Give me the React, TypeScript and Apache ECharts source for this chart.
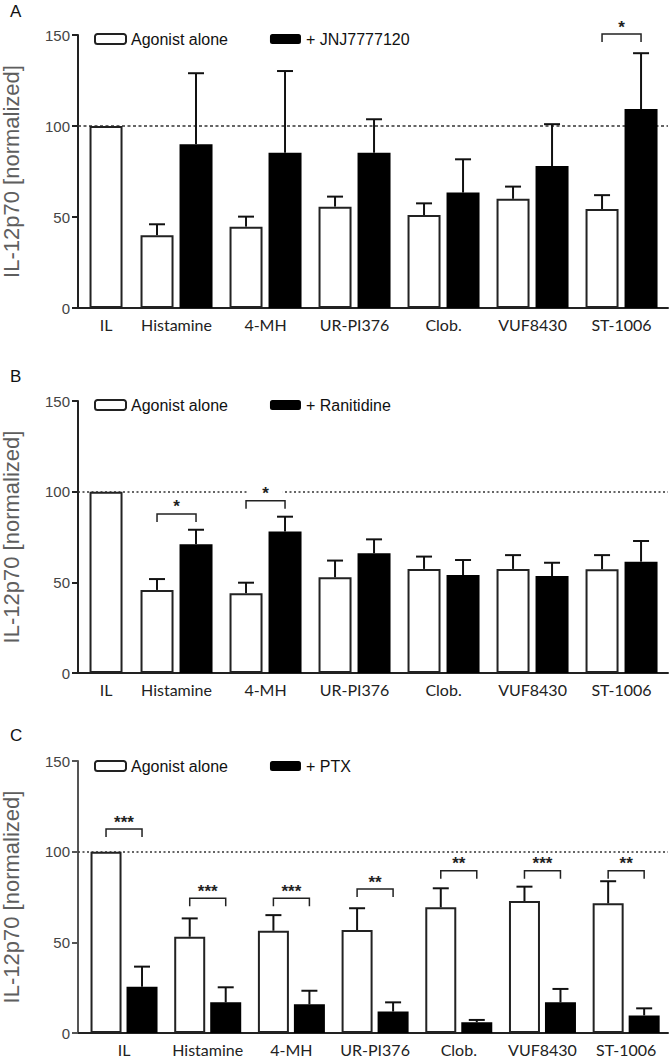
import React, { useEffect, useRef } from 'react';
import * as echarts from 'echarts';

// ---------- data ----------
const categories = ['IL', 'Histamine', '4-MH', 'UR-PI376', 'Clob.', 'VUF8430', 'ST-1006'];
const yTicks = [0, 50, 100, 150];

// Panel A
const aloneA = [100, 40, 44.7, 55.7, 51.1, 60, 54.4];
const aloneErrA = [null, 6, 5.5, 5.5, 6.4, 6.7, 7.6];
const jnjA = [null, 90, 85.3, 85.3, 63.4, 78, 109.3];
const jnjErrA = [null, 39, 44.9, 18.4, 18.3, 23, 30.7];
const sigA = [null, null, null, null, null, null, '*'];
const sigLevelA = [null, null, null, null, null, null, 150.5];

// Panel B
const aloneB = [100, 45.8, 44, 52.8, 57.4, 57.4, 57.2];
const aloneErrB = [null, 6, 5.8, 9.2, 6.8, 7.6, 7.8];
const raniB = [null, 71, 78, 66, 54, 53.5, 61.4];
const raniErrB = [null, 8, 8.2, 7.7, 8.3, 7.3, 11.4];
const sigB = [null, '*', '*', null, null, null, null];
const sigLevelB = [null, 87.7, 95, null, null, null, null];

// Panel C
const aloneC = [100, 53.1, 56.4, 56.8, 69.3, 72.8, 71.5];
const aloneErrC = [null, 10.1, 8.6, 12, 10.5, 7.9, 12.2];
const ptxC = [25.5, 16.9, 15.8, 11.8, 5.9, 16.9, 9.7];
const ptxErrC = [11.1, 8.3, 7.5, 5.1, 1.3, 7.4, 3.9];
const sigC = ['***', '***', '***', '**', '**', '***', '**'];
const sigLevelC = [112.5, 74.3, 74.3, 79.4, 89.5, 89.5, 89.5];

const referenceLevel = 100;

// ---------- layout ----------
const GRID_LEFT = 78;
const GRID_WIDTH = 590;
const panels = [
  {
    letter: 'A', top: 35, height: 273, letterY: 3, legendTop: 31,
    xMin: -0.107, xMax: 6.522, ilPos: 0.427, barW: 33, gapPx: 6, ilLabelOnBar: true,
    alone: aloneA, aloneErr: aloneErrA, treat: jnjA, treatErr: jnjErrA, treatName: '+ JNJ7777120',
    sig: sigA, sigLevel: sigLevelA, starBg: false, axisColor: '#222', dash: [3, 2.5],
  },
  {
    letter: 'B', top: 401, height: 272, letterY: 368, legendTop: 397,
    xMin: -0.107, xMax: 6.522, ilPos: 0.427, barW: 33, gapPx: 6, ilLabelOnBar: true,
    alone: aloneB, aloneErr: aloneErrB, treat: raniB, treatErr: raniErrB, treatName: '+ Ranitidine',
    sig: sigB, sigLevel: sigLevelB, starBg: true, axisColor: '#222', dash: [2, 2.5],
  },
  {
    letter: 'C', top: 761, height: 272, letterY: 727, legendTop: 758,
    xMin: -0.55, xMax: 6.5, ilPos: 0, barW: 31, gapPx: 5, ilLabelOnBar: false,
    alone: aloneC, aloneErr: aloneErrC, treat: ptxC, treatErr: ptxErrC, treatName: '+ PTX',
    sig: sigC, sigLevel: sigLevelC, starBg: false, axisColor: '#555', dash: [2, 2.5],
  },
];

const SANS = 'Liberation Sans, Arial, sans-serif';

function buildOption() {
  const grid: any[] = [];
  const xAxis: any[] = [];
  const yAxis: any[] = [];
  const series: any[] = [];
  const legend: any[] = [];
  const graphic: any[] = [];

  panels.forEach((p, i) => {
    const pxPerUnit = GRID_WIDTH / (p.xMax - p.xMin);
    const off = (p.barW + p.gapPx) / 2;
    const pos = (j: number) => (j === 0 ? p.ilPos : j);
    const labelPos = categories.map((_, j) =>
      j === 0 && p.ilLabelOnBar ? p.ilPos - off / pxPerUnit : pos(j)
    );

    grid.push({
      left: GRID_LEFT, width: GRID_WIDTH, top: p.top, height: p.height,
      containLabel: false, outerBoundsMode: 'none',
    });

    xAxis.push({
      gridIndex: i, type: 'value', min: p.xMin, max: p.xMax,
      axisLine: { show: true, onZero: false, lineStyle: { color: '#222', width: 2 } },
      axisTick: { show: false },
      splitLine: { show: false },
      axisLabel: {
        customValues: labelPos,
        formatter: (v: number) => {
          let best = 0;
          labelPos.forEach((lp, k) => {
            if (Math.abs(lp - v) < Math.abs(labelPos[best] - v)) best = k;
          });
          return categories[best];
        },
        fontFamily: 'Lato, sans-serif', fontSize: 16, lineHeight: 16, color: '#222', margin: 8,
      },
    });

    yAxis.push({
      gridIndex: i, type: 'value', min: yTicks[0], max: yTicks[yTicks.length - 1], interval: 50,
      name: 'IL-12p70 [normalized]', nameLocation: 'middle', nameGap: 56,
      nameTextStyle: { fontFamily: SANS, fontSize: 22, color: '#5e5e5e' },
      axisLine: { show: true, onZero: false, lineStyle: { color: p.axisColor, width: 2 } },
      axisTick: { show: true, length: 6, lineStyle: { color: p.axisColor, width: 2 } },
      axisLabel: { fontFamily: SANS, fontSize: 15, color: '#444', margin: 8 },
      splitLine: { show: false },
    });

    const aloneData = p.alone.map((v, j) => (v == null ? null : [pos(j), v])).filter(Boolean);
    const treatData = p.treat.map((v, j) => (v == null ? null : [pos(j), v])).filter(Boolean);
    const barGap = `${(p.gapPx / p.barW) * 100}%`;

    series.push({
      type: 'bar', name: 'Agonist alone', xAxisIndex: i, yAxisIndex: i,
      data: aloneData, barWidth: p.barW, barGap, z: 2,
      itemStyle: { color: '#fff', borderColor: '#222', borderWidth: 2 },
      markLine: {
        silent: true, symbol: 'none', z: 1, animation: false,
        label: { show: false },
        lineStyle: { type: p.dash, color: '#333', width: 1.5 },
        data: [{ yAxis: referenceLevel }],
      },
    });
    series.push({
      type: 'bar', name: p.treatName, xAxisIndex: i, yAxisIndex: i,
      data: treatData, barWidth: p.barW, barGap, z: 2,
      itemStyle: { color: '#000', borderColor: '#000', borderWidth: 2 },
    });

    // error bars (upper only)
    const errData: any[] = [];
    p.alone.forEach((v, j) => {
      const e = p.aloneErr[j];
      if (v != null && e != null) errData.push([pos(j), v, e, -1]);
    });
    p.treat.forEach((v, j) => {
      const e = p.treatErr[j];
      if (v != null && e != null) errData.push([pos(j), v, e, 1]);
    });
    series.push({
      type: 'custom', xAxisIndex: i, yAxisIndex: i, z: 3, silent: true,
      data: errData,
      renderItem: (_params: any, api: any) => {
        const x = api.value(0), y = api.value(1), e = api.value(2), side = api.value(3);
        const b = api.coord([x, y]);
        const t = api.coord([x, y + e]);
        const cx = b[0] + side * off;
        const st = { stroke: '#111', lineWidth: 2 };
        return {
          type: 'group',
          children: [
            { type: 'line', shape: { x1: cx, y1: b[1], x2: cx, y2: t[1] }, style: st },
            { type: 'line', shape: { x1: cx - 8, y1: t[1], x2: cx + 8, y2: t[1] }, style: st },
          ],
        };
      },
    });

    // significance brackets
    const sigData: any[] = [];
    const sigText: string[] = [];
    p.sig.forEach((s, j) => {
      const lvl = p.sigLevel[j];
      if (s != null && lvl != null) {
        sigData.push([pos(j), lvl]);
        sigText.push(s as string);
      }
    });
    series.push({
      type: 'custom', xAxisIndex: i, yAxisIndex: i, z: 4, silent: true, clip: false,
      data: sigData,
      renderItem: (params: any, api: any) => {
        const x = api.value(0), lvl = api.value(1);
        const c = api.coord([x, lvl]);
        const l = c[0] - off, r = c[0] + off, yTop = c[1], yDrop = c[1] + 8;
        const textStyle: any = {
          text: sigText[params.dataIndex], fontFamily: SANS, fontSize: 17, fontWeight: 'bold',
          fill: '#222', align: 'center', verticalAlign: 'middle', lineHeight: 10,
        };
        if (p.starBg) {
          textStyle.backgroundColor = '#fff';
          textStyle.padding = [0, 14];
        }
        return {
          type: 'group',
          children: [
            {
              type: 'polyline',
              shape: { points: [[l, yDrop], [l, yTop], [r, yTop], [r, yDrop]] },
              style: { stroke: '#222', lineWidth: 1.5, fill: null },
            },
            { type: 'text', x: c[0], y: yTop - 7, style: textStyle },
          ],
        };
      },
    });

    legend.push({
      left: 94, top: p.legendTop, padding: 0, itemWidth: 31, itemHeight: 10, itemGap: 42,
      icon: 'roundRect', selectedMode: false,
      textStyle: { fontFamily: SANS, fontSize: 16, color: '#111' },
      data: [
        { name: 'Agonist alone', itemStyle: { color: '#fff', borderColor: '#222', borderWidth: 2 } },
        { name: p.treatName, itemStyle: { color: '#000', borderColor: '#000', borderWidth: 0 } },
      ],
    });

    graphic.push({
      type: 'text', left: 10, top: p.letterY,
      style: { text: p.letter, fontFamily: SANS, fontSize: 17, fill: '#111' },
    });
  });

  return {
    animation: false,
    backgroundColor: '#fff',
    grid, xAxis, yAxis, series, legend, graphic,
  };
}

export default function App() {
  const ref = useRef<HTMLDivElement>(null);
  useEffect(() => {
    if (!ref.current) return;
    const chart = echarts.init(ref.current, null, { renderer: 'svg' });
    chart.setOption(buildOption() as any);
    return () => chart.dispose();
  }, []);
  return (
    <div
      ref={ref}
      style={{ position: 'absolute', left: 0, top: 0, width: 670, height: 1058, background: '#fff' }}
    />
  );
}
